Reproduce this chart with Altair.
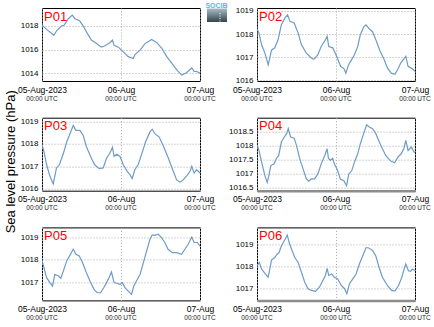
import altair as alt
import pandas as pd

START = pd.Timestamp("2023-08-05T00:00:00")

# ---- data (hours since 05-Aug-2023 00:00 UTC, pressure hPa) ----
p01_h = [0, 1.4, 3.6, 4.5, 6, 6.7, 8, 9.2, 10, 11.5, 12.5, 13.6, 15, 16.6, 18, 19, 20.7, 21.4, 21.9, 23.2,
         24.7, 26.2, 27.7, 28.3, 29.8, 31.3, 33.3, 34.8, 36.4, 37.9, 39.4, 40.9, 42.4, 43.9, 45.5, 46.2, 47, 48]
p01_v = [1018.05, 1017.7, 1017.2, 1017.6, 1018.0, 1018.05, 1018.6, 1018.9, 1018.6, 1018.4,
         1018.0, 1017.45, 1016.8, 1016.5, 1016.2, 1016.3, 1016.6, 1016.8, 1016.35, 1016.2,
         1015.8, 1015.4, 1015.25, 1015.6, 1015.95, 1016.5, 1016.85, 1016.6, 1016.1, 1015.4,
         1014.85, 1014.3, 1013.85, 1014.05, 1014.45, 1014.15, 1014.15, 1014.0]

p02_h = [0, 0.6, 1.4, 2.4, 3.4, 3.9, 4.4, 5.4, 6.4, 7.4, 8.5, 9.3, 10, 11.3, 12.5, 13.5, 15, 16.5, 17.3, 18.5,
         19.5, 20.8, 21.3, 21.8, 23, 24, 25.4, 26.4, 27, 27.8, 28.8, 29.6, 30.6, 31.4, 32.4, 33.1, 34.1, 35.1,
         36.1, 37.4, 38.6, 39.6, 40.8, 41.9, 42.7, 43.7, 45.2, 45.9, 46.7, 47.5, 48]
p02_v = [1018.23, 1018.04, 1017.53, 1017.17, 1016.66, 1016.96, 1017.3, 1017.4, 1017.75, 1018.4,
         1018.7, 1018.83, 1018.55, 1018.48, 1018.04, 1017.53, 1017.17, 1016.96, 1016.9, 1017.1,
         1017.46, 1017.75, 1017.9, 1017.46, 1017.4, 1017.1, 1016.6, 1016.5, 1016.3, 1016.66,
         1016.9, 1017.1, 1017.46, 1017.97, 1018.3, 1018.4, 1018.23, 1018.1, 1017.75, 1017.25,
         1016.9, 1016.53, 1016.3, 1016.25, 1016.45, 1016.75, 1017.03, 1016.6, 1016.53, 1016.45, 1016.38]

p03_h = [0, 0.6, 1.4, 2.4, 3.4, 3.9, 4.4, 5.3, 6.5, 7.5, 8.5, 9.5, 10.3, 11.5, 12.5, 13.5, 15, 16, 17.4, 18.6,
         19.6, 20.6, 21.4, 21.9, 22.7, 23.7, 24.7, 25.9, 26.7, 27.4, 28.2, 29.2, 30.2, 31.5, 32.8, 33.5, 34.3,
         35.6, 36.8, 38.4, 39.7, 40.9, 41.9, 42.9, 43.9, 45, 45.5, 46.2, 47, 48]
p03_v = [1017.96, 1017.65, 1017.07, 1016.57, 1016.22, 1016.57, 1016.93, 1017.07, 1017.58, 1018.08,
         1018.45, 1018.82, 1018.6, 1018.6, 1018.38, 1017.87, 1017.36, 1017.07, 1016.9, 1016.93,
         1017.36, 1017.58, 1017.85, 1017.44, 1017.54, 1017.44, 1017.07, 1016.78, 1016.63, 1016.46,
         1016.85, 1017.07, 1017.51, 1018.1, 1018.53, 1018.65, 1018.45, 1018.3, 1017.93, 1017.36,
         1016.85, 1016.4, 1016.3, 1016.4, 1016.57, 1016.78, 1017.0, 1016.7, 1016.85, 1016.7]

p04_h = [0, 0.6, 1.4, 2.4, 3.1, 3.6, 4.2, 5.2, 5.9, 6.6, 7.4, 8.3, 9, 9.5, 10.2, 11.3, 12, 13, 14, 15,
         15.7, 16.5, 17.5, 18.5, 19.5, 20.6, 21.3, 21.7, 22.3, 23, 23.5, 24.5, 25.3, 26.4, 27.2, 27.9, 28.8,
         29.6, 30.6, 31.4, 32.4, 33.3, 34.1, 35.1, 36.1, 37.1, 38.1, 39.1, 40.6, 41.8, 42.8, 43.8, 44.6,
         45.2, 45.9, 46.9, 47.7, 48]
p04_v = [1018.02, 1017.82, 1017.4, 1016.92, 1016.68, 1016.92, 1017.28, 1017.34, 1017.54, 1017.64,
         1018.12, 1018.3, 1018.42, 1018.6, 1018.3, 1018.26, 1018.0, 1017.52, 1017.16, 1016.8,
         1016.72, 1016.8, 1016.8, 1016.98, 1017.34, 1017.64, 1017.88, 1017.54, 1017.46, 1017.54,
         1017.34, 1017.1, 1016.8, 1016.74, 1016.56, 1016.98, 1017.1, 1017.4, 1017.7, 1018.06,
         1018.42, 1018.74, 1018.66, 1018.6, 1018.42, 1018.14, 1017.88, 1017.64, 1017.44, 1017.38,
         1017.58, 1017.7, 1017.88, 1018.18, 1017.82, 1017.94, 1017.76, 1017.76]

p05_h = [0, 0.6, 1.4, 2.4, 3.2, 3.9, 5, 5.7, 6.5, 7.5, 8.5, 9.5, 10.3, 11.3, 12.3, 13.5, 14.6, 15.8, 16.8, 17.8,
         18.8, 19.6, 20.6, 21.1, 21.9, 22.7, 23.7, 24.4, 25.2, 26.2, 27.2, 27.9, 28.7, 29.8, 30.8, 31.8, 32.8,
         33.5, 34.3, 35.3, 36.3, 37.3, 38.3, 39.6, 40.9, 42.4, 43.4, 44.4, 45.5, 46.2, 47.2, 48]
p05_v = [1017.97, 1017.64, 1017.2, 1016.98, 1016.83, 1017.35, 1017.27, 1017.17, 1017.5, 1017.94,
         1018.2, 1018.46, 1018.24, 1018.16, 1017.87, 1017.42, 1017.04, 1016.68, 1016.53, 1016.53,
         1016.76, 1016.98, 1017.27, 1017.45, 1016.98, 1016.95, 1016.9, 1016.98, 1016.76, 1016.6,
         1016.46, 1016.83, 1017.05, 1017.35, 1017.87, 1018.39, 1018.9, 1019.1, 1019.08, 1019.13,
         1018.98, 1018.76, 1018.46, 1018.31, 1018.31, 1018.24, 1018.46, 1018.68, 1019.0, 1018.76,
         1018.76, 1018.6]

p06_h = [0, 0.7, 1.4, 2.4, 3.4, 3.9, 4.4, 5.4, 6.1, 6.7, 7.4, 8.5, 9.2, 9.8, 10.5, 11.5, 12.5, 13.5, 14.5, 15.5,
         16.5, 17.8, 19, 20, 20.8, 21.3, 21.8, 22.7, 23.5, 24.5, 25.6, 26.6, 27.3, 28.1, 29.1, 30.1, 31.1,
         32.1, 33.1, 33.8, 35.1, 36.1, 37.1, 38.1, 39.6, 40.9, 41.9, 43, 44, 44.7, 45.2, 46, 46.7, 47.2, 48]
p06_v = [1018.03, 1018.18, 1017.88, 1017.68, 1017.5, 1017.88, 1018.29, 1018.41, 1018.56, 1018.64,
         1018.94, 1019.24, 1019.44, 1019.09, 1018.79, 1018.41, 1018.18, 1017.73, 1017.27, 1016.97,
         1016.89, 1016.85, 1017.05, 1017.35, 1017.58, 1017.91, 1017.58, 1017.65, 1017.5, 1017.42,
         1017.12, 1016.97, 1016.74, 1017.2, 1017.42, 1017.65, 1018.11, 1018.48, 1018.86, 1018.86,
         1018.74, 1018.48, 1017.95, 1017.5, 1017.12, 1016.89, 1016.86, 1017.12, 1017.5, 1017.88,
         1018.11, 1017.8, 1017.77, 1017.88, 1017.8]

panel_names = ["P01", "P02", "P03", "P04", "P05", "P06"]
y_domains = [[1013.35, 1019.5], [1015.96, 1019.13], [1015.92, 1019.16],
             [1016.38, 1018.99], [1016.19, 1019.43], [1016.43, 1019.8]]
y_ticks = [[1014, 1016, 1018], [1016, 1017, 1018, 1019], [1016, 1017, 1018, 1019],
           [1016.5, 1017, 1017.5, 1018, 1018.5], [1017, 1018, 1019], [1017, 1018, 1019]]
x_label_hours = [0, 24, 48]
x_sub_label = "00:00 UTC"
y_title = "Sea level pressure (hPa)"
logo_text = "SOCIB"

FONT = "Liberation Sans"
LINE = "#6e9bc8"
W, H = 158, 73


def iso(h):
    t = START + pd.Timedelta(minutes=round(h * 60))
    return t.strftime("%Y-%m-%dT%H:%M:%SZ")


def dt(day, hour):
    return alt.DateTime(year=2023, month=8, date=day, hours=hour, utc=True)


x_values = [dt(5 + (h // 24), h % 24) for h in range(0, 49, 6)]
x_scale = alt.Scale(type="utc", domain=[dt(5, 0), dt(7, 0)])
label_expr = ("utchours(datum.value) == 0 ? (utcdate(datum.value) == 5 ? "
              "utcFormat(datum.value, '%d-%b-%Y') : utcFormat(datum.value, '%d-%b')) : ''")


def panel(i, hours, values, logo=False, thick=False):
    df = pd.DataFrame({"time": [iso(h) for h in hours], "p": values})
    xenc = alt.X(
        "time:T", scale=x_scale, title=None,
        axis=alt.Axis(values=x_values, labelExpr=label_expr, grid=True, gridDash=[1, 2],
                      gridColor="#a8a8a8", gridWidth=1, ticks=False, tickSize=0,
                      domain=thick, domainColor="#8c8c8c", domainWidth=2.5,
                      labelFont=FONT, labelFontSize=8.5, labelColor="black",
                      labelPadding=11, labelBaseline="alphabetic", labelOverlap=False,
                      labelBound=False, labelFlush=False, title=None))
    line = alt.Chart(df).mark_line(color=LINE, strokeWidth=1.2, clip=True).encode(
        x=xenc,
        y=alt.Y("p:Q", title=None,
                scale=alt.Scale(domain=y_domains[i], nice=False, zero=False),
                axis=alt.Axis(values=y_ticks[i], grid=True, gridDash=[1, 2], gridColor="#a8a8a8",
                              ticks=False, tickSize=0, domain=False, labelFont=FONT,
                              labelExpr="'' + datum.value",
                              labelFontSize=8, labelColor="black", labelPadding=4, title=None)),
    )
    sub = pd.DataFrame({"time": [iso(h) for h in x_label_hours], "lab": [x_sub_label] * 3})
    subtxt = alt.Chart(sub).mark_text(font=FONT, fontSize=6.5, color="#222", baseline="alphabetic",
                                      align="center").encode(
        x=alt.X("time:T", scale=x_scale, title=None), y=alt.value(H + 19.7), text="lab:N")
    name = alt.Chart(pd.DataFrame({"n": [panel_names[i]]})).mark_text(
        font=FONT, fontSize=13, color="#ff0000", align="left", baseline="alphabetic").encode(
        x=alt.value(2), y=alt.value(12.7), text="n:N")
    layers = [line, subtxt, name]
    if logo:
        grad = alt.LinearGradient(gradient="linear", x1=0, y1=0, x2=0, y2=1,
                                  stops=[alt.GradientStop(color="#a9bcc6", offset=0),
                                         alt.GradientStop(color="#33444f", offset=1)])
        lg = pd.DataFrame({"t": [logo_text]})
        box = alt.Chart(lg).mark_rect(color=grad).encode(
            x=alt.value(165), x2=alt.value(185), y=alt.value(0.5), y2=alt.value(14))
        dots = alt.Chart(lg).mark_rule(color="white", strokeDash=[1, 1.5], strokeWidth=1).encode(
            x=alt.value(178), y=alt.value(5), y2=alt.value(14))
        txt = alt.Chart(lg).mark_text(font=FONT, fontSize=7, fontWeight="bold", color="#4fc0dc",
                                      align="center", baseline="alphabetic").encode(
            x=alt.value(174.5), y=alt.value(0), text="t:N")
        layers += [box, dots, txt]
    return alt.layer(*layers).properties(width=W, height=H)


panels = [
    panel(0, p01_h, p01_v, logo=True),
    panel(1, p02_h, p02_v),
    panel(2, p03_h, p03_v),
    panel(3, p04_h, p04_v, thick=True),
    panel(4, p05_h, p05_v),
    panel(5, p06_h, p06_v, thick=True),
]

chart = alt.concat(
    *panels, columns=2, spacing=alt.RowColnumber(row=36.7, column=57), bounds="flush",
    title=alt.TitleParams(text=y_title, orient="left", anchor="middle", fontSize=13,
                          fontWeight="normal", font=FONT, color="black", offset=-1),
).properties(
    autosize=alt.AutoSizeParams(type="none"),
    padding={"left": 42, "top": 8, "right": 392, "bottom": 319},
    background="white",
).configure_view(stroke="black", strokeWidth=1)

chart.save("out.html", embed_options={"renderer": "svg", "actions": False})
